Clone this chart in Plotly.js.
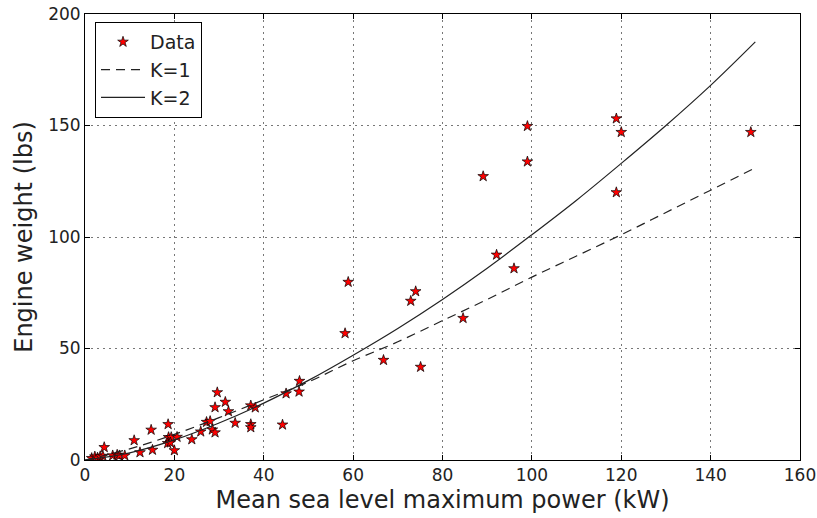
<!DOCTYPE html>
<html>
<head>
<meta charset="utf-8">
<script src="https://cdn.plot.ly/plotly-3.0.1.min.js"></script>
<style>html,body{margin:0;padding:0;background:#fff;}#chart{width:817px;height:518px;}</style>
</head>
<body>
<div id="chart"></div>
<script>
var powerKW = [1.5, 2.2, 2.8, 3.4, 4.0, 4.3, 6.2, 7.2, 7.7, 8.9,
  11.0, 12.3, 14.8, 15.1, 18.6, 18.7, 19.3, 18.5, 19.1, 20.0,
  20.6, 23.9, 25.9, 27.2, 28.0, 28.5, 29.1, 29.1, 29.6, 31.4,
  32.1, 33.6, 37.1, 38.1, 37.1, 37.1, 44.2, 45.0, 47.9, 48.0,
  58.2, 58.9, 66.8, 72.9, 74.0, 75.1, 84.6, 89.1, 92.1, 96.0,
  99.0, 99.0, 118.9, 120.0, 118.9, 149.0];
var weightLbs = [0.8, 1.5, 1.0, 1.6, 1.8, 5.7, 2.0, 2.3, 2.0, 2.0,
  8.8, 3.4, 13.5, 4.5, 16.0, 10.2, 10.2, 7.5, 7.8, 4.3,
  10.3, 9.2, 12.7, 17.0, 17.4, 13.6, 12.3, 23.6, 30.3, 26.0,
  21.8, 16.6, 24.4, 23.5, 16.0, 14.6, 15.8, 29.8, 30.6, 35.4,
  56.8, 79.8, 44.8, 71.3, 75.6, 41.7, 63.6, 127.2, 92.0, 85.9,
  149.7, 133.8, 153.1, 147.0, 120.0, 147.0];

// Fitted curves, values
var fitX  = [0, 10, 20, 30, 40, 50, 60, 70, 80, 90, 100, 110, 120, 130, 140, 150];
var fitK1 = [0, 5, 11.5, 19, 27, 35, 44.5, 53, 62.5, 72, 82, 91.5, 101, 111, 121, 131];
var fitK2 = [0, 3.2, 9, 16.6, 25.5, 35.7, 47, 59, 72, 86, 101, 116.5, 133, 150, 168, 187.5];

var xTicks = [0, 20, 40, 60, 80, 100, 120, 140, 160];
var yTicks = [0, 50, 100, 150, 200];

var fontFam = "DejaVu Sans, sans-serif";

var traces = [
  {x: powerKW, y: weightLbs, type: 'scatter', mode: 'markers', name: 'Data', legendgroup: 'a',
   marker: {symbol: 'star', size: 8, color: '#ff0000', line: {color: '#000', width: 0.7}}},
  {x: fitX, y: fitK1, type: 'scatter', mode: 'lines', name: 'K=1', legendgroup: 'b',
   line: {color: '#222', width: 1.2, dash: '9px,6px', shape: 'spline'}},
  {x: fitX, y: fitK2, type: 'scatter', mode: 'lines', name: 'K=2', legendgroup: 'c',
   line: {color: '#222', width: 1.2, shape: 'spline'}}
];

var axisCommon = {
  showline: true, linecolor: '#000', linewidth: 1, mirror: 'ticks',
  ticks: 'inside', ticklen: 5, tickcolor: '#000', tickwidth: 1,
  showgrid: true, gridcolor: '#777', gridwidth: 1, griddash: '2px,4px',
  zeroline: false, tickfont: {family: fontFam, size: 17, color: '#222'}
};

var layout = {
  width: 817, height: 518,
  paper_bgcolor: '#fff', plot_bgcolor: '#fff',
  margin: {l: 85, r: 17, t: 14, b: 58},
  showlegend: true,
  legend: {x: 0.014, y: 0.982, xanchor: 'left', yanchor: 'top',
    bordercolor: '#000', borderwidth: 1, bgcolor: '#fff', itemwidth: 44,
    font: {family: fontFam, size: 19, color: '#222'}, tracegroupgap: 4, traceorder: 'normal'},
  xaxis: Object.assign({}, axisCommon, {
    range: [0, 160], tickvals: xTicks, ticktext: xTicks.map(String),
    title: {text: 'Mean sea level maximum power (kW)', font: {family: fontFam, size: 24, color: '#222'}, standoff: 6}
  }),
  yaxis: Object.assign({}, axisCommon, {
    range: [0, 200], tickvals: yTicks, ticktext: yTicks.map(String),
    title: {text: 'Engine weight (lbs)', font: {family: fontFam, size: 24, color: '#222'}, standoff: 8}
  })
};

Plotly.newPlot('chart', traces, layout, {staticPlot: true, displayModeBar: false});
</script>
</body>
</html>
